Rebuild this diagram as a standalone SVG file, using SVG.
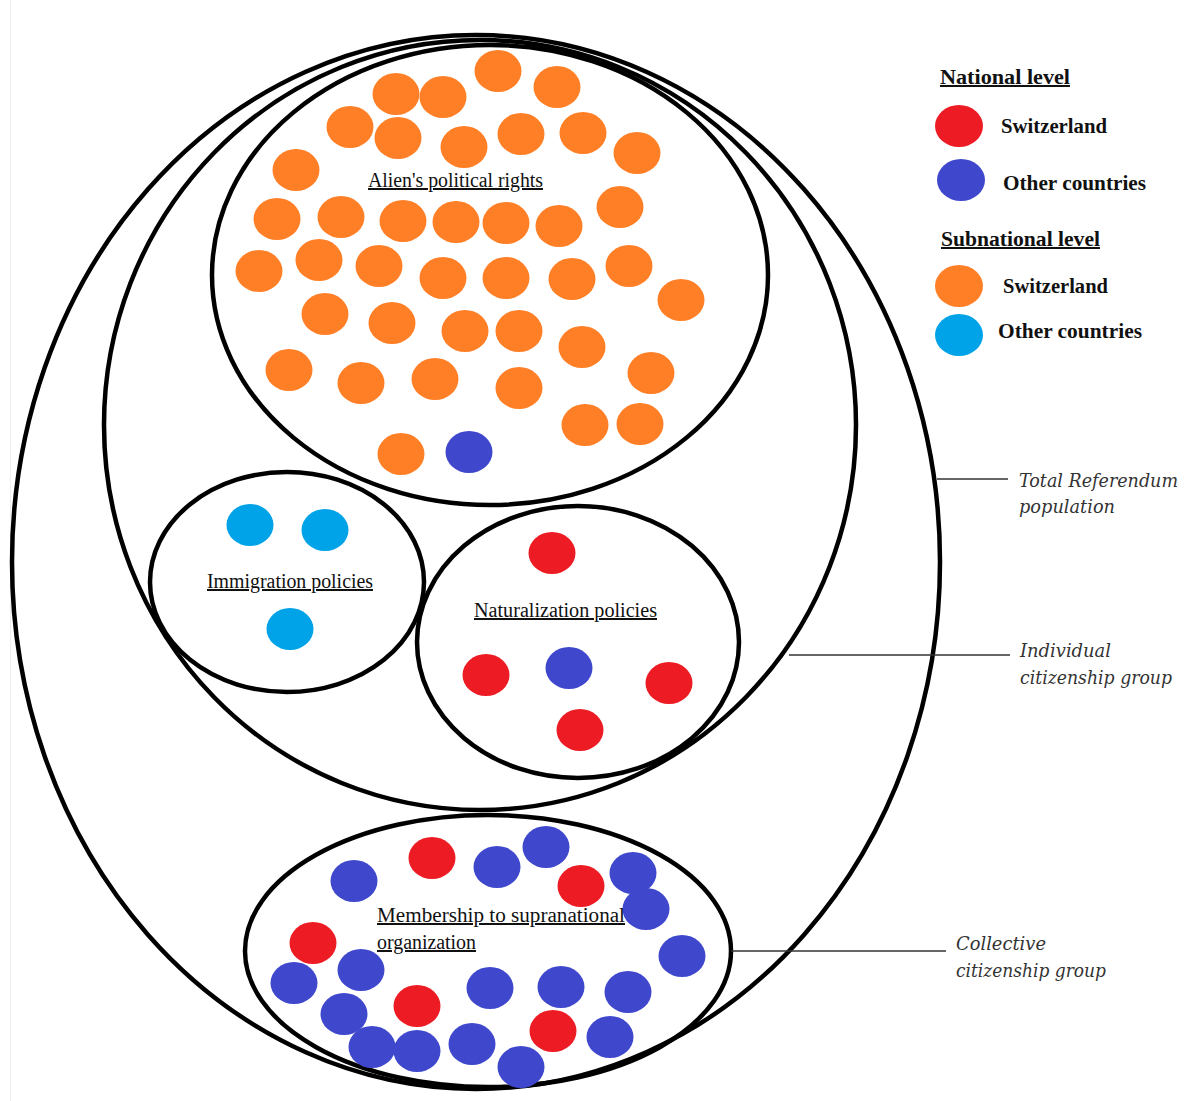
<svg xmlns="http://www.w3.org/2000/svg" width="1184" height="1101" viewBox="0 0 1184 1101">
  <style>
    .set { fill: none; stroke: #000; stroke-width: 4.5; }
    .o { fill: #FF7F27; }
    .r { fill: #ED1C24; }
    .b { fill: #3F48CC; }
    .c { fill: #00A2E8; }
    .lbl { font-family: "Liberation Serif", "Times New Roman", serif; font-size: 20px; fill: #111; text-decoration: underline; }
    .leg { font-family: "Liberation Serif", "Times New Roman", serif; font-size: 20px; font-weight: bold; fill: #111; }
    .legh { font-family: "Liberation Serif", "Times New Roman", serif; font-size: 20px; font-weight: bold; fill: #111; text-decoration: underline; }
    .cap { font-family: "DejaVu Serif", "Liberation Serif", serif; font-size: 18px; font-style: italic; fill: #333; }
    .lead { stroke: #333; stroke-width: 1.5; fill: none; }
  </style>
  <defs>
    <ellipse id="dot" cx="0" cy="0" rx="23.5" ry="21"/>
  </defs>
  <rect x="0" y="0" width="1184" height="1101" fill="#fff"/>
  <line x1="10.5" y1="0" x2="10.5" y2="1101" stroke="#eceef4" stroke-width="1"/>

  <g id="total-referendum-population">
    <ellipse class="set" cx="476" cy="562" rx="464" ry="527"/>
  </g>

  <g id="individual-citizenship-group">
    <ellipse class="set" cx="480" cy="425" rx="376" ry="385"/>
  </g>

  <g id="aliens-political-rights">
    <ellipse class="set" cx="490" cy="275" rx="278" ry="230"/>
    <g class="o">
      <use href="#dot" x="498" y="71"/><use href="#dot" x="557" y="87"/><use href="#dot" x="396" y="94"/>
      <use href="#dot" x="443" y="97"/><use href="#dot" x="350" y="127"/><use href="#dot" x="398" y="138"/>
      <use href="#dot" x="464" y="147"/><use href="#dot" x="521" y="134"/><use href="#dot" x="583" y="133"/>
      <use href="#dot" x="637" y="153"/><use href="#dot" x="296" y="170"/><use href="#dot" x="620" y="207"/>
      <use href="#dot" x="277" y="219"/><use href="#dot" x="341" y="217"/><use href="#dot" x="403" y="221"/>
      <use href="#dot" x="456" y="222"/><use href="#dot" x="506" y="223"/><use href="#dot" x="559" y="226"/>
      <use href="#dot" x="259" y="271"/><use href="#dot" x="319" y="260"/><use href="#dot" x="379" y="266"/>
      <use href="#dot" x="443" y="278"/><use href="#dot" x="506" y="278"/><use href="#dot" x="572" y="279"/>
      <use href="#dot" x="629" y="266"/><use href="#dot" x="681" y="300"/><use href="#dot" x="325" y="314"/>
      <use href="#dot" x="392" y="323"/><use href="#dot" x="465" y="331"/><use href="#dot" x="519" y="331"/>
      <use href="#dot" x="582" y="347"/><use href="#dot" x="289" y="370"/><use href="#dot" x="361" y="383"/>
      <use href="#dot" x="435" y="379"/><use href="#dot" x="519" y="388"/><use href="#dot" x="651" y="373"/>
      <use href="#dot" x="585" y="425"/><use href="#dot" x="640" y="424"/><use href="#dot" x="401" y="454"/>
    </g>
    <use href="#dot" class="b" x="469" y="452"/>
    <text class="lbl" x="368" y="187" textLength="175" lengthAdjust="spacingAndGlyphs">Alien's political rights</text>
  </g>

  <g id="immigration-policies">
    <ellipse class="set" cx="287" cy="582" rx="137" ry="110"/>
    <g class="c">
      <use href="#dot" x="250" y="525"/><use href="#dot" x="325" y="530"/><use href="#dot" x="290" y="629"/>
    </g>
    <text class="lbl" x="207" y="588" textLength="166" lengthAdjust="spacingAndGlyphs">Immigration policies</text>
  </g>

  <g id="naturalization-policies">
    <ellipse class="set" cx="578" cy="642" rx="161" ry="136"/>
    <g class="r">
      <use href="#dot" x="552" y="553"/><use href="#dot" x="486" y="675"/><use href="#dot" x="669" y="683"/><use href="#dot" x="580" y="730"/>
    </g>
    <use href="#dot" class="b" x="569" y="668"/>
    <text class="lbl" x="474" y="617" textLength="183" lengthAdjust="spacingAndGlyphs">Naturalization policies</text>
  </g>

  <g id="membership-supranational">
    <ellipse class="set" cx="488" cy="951" rx="243" ry="136"/>
    <g class="b">
      <use href="#dot" x="354" y="881"/><use href="#dot" x="497" y="867"/><use href="#dot" x="546" y="847"/>
      <use href="#dot" x="633" y="873"/><use href="#dot" x="646" y="909"/><use href="#dot" x="682" y="956"/>
      <use href="#dot" x="294" y="983"/><use href="#dot" x="361" y="970"/><use href="#dot" x="490" y="988"/>
      <use href="#dot" x="561" y="987"/><use href="#dot" x="628" y="992"/><use href="#dot" x="344" y="1014"/>
      <use href="#dot" x="610" y="1037"/><use href="#dot" x="372" y="1047"/><use href="#dot" x="417" y="1051"/>
      <use href="#dot" x="472" y="1044"/><use href="#dot" x="521" y="1067"/>
    </g>
    <g class="r">
      <use href="#dot" x="432" y="858"/><use href="#dot" x="581" y="886"/><use href="#dot" x="313" y="943"/>
      <use href="#dot" x="417" y="1006"/><use href="#dot" x="553" y="1031"/>
    </g>
    <text class="lbl" x="377" y="922" textLength="248" lengthAdjust="spacingAndGlyphs">Membership to supranational </text>
    <text class="lbl" x="377" y="949" textLength="99" lengthAdjust="spacingAndGlyphs">organization</text>
  </g>

  <g id="legend">
    <text class="legh" x="940" y="84" textLength="130" lengthAdjust="spacingAndGlyphs">National level</text>
    <ellipse class="r" cx="959" cy="126" rx="24" ry="21"/>
    <text class="leg" x="1001" y="133" textLength="106" lengthAdjust="spacingAndGlyphs">Switzerland</text>
    <ellipse class="b" cx="961" cy="180" rx="24" ry="21"/>
    <text class="leg" x="1003" y="190" textLength="143" lengthAdjust="spacingAndGlyphs">Other countries</text>
    <text class="legh" x="941" y="246" textLength="159" lengthAdjust="spacingAndGlyphs">Subnational level</text>
    <ellipse class="o" cx="959" cy="286" rx="24" ry="21"/>
    <text class="leg" x="1003" y="293" textLength="105" lengthAdjust="spacingAndGlyphs">Switzerland</text>
    <ellipse class="c" cx="959" cy="335" rx="24" ry="21"/>
    <text class="leg" x="998" y="338" textLength="144" lengthAdjust="spacingAndGlyphs">Other countries</text>
  </g>

  <g id="connectors">
    <line class="lead" x1="937" y1="479" x2="1008" y2="479"/>
    <line class="lead" x1="789" y1="655" x2="1010" y2="655"/>
    <line class="lead" x1="731" y1="951" x2="946" y2="951"/>
  </g>

  <g id="captions">
    <text class="cap" x="1019" y="487" textLength="159" lengthAdjust="spacingAndGlyphs">Total Referendum</text>
    <text class="cap" x="1019" y="513" textLength="96" lengthAdjust="spacingAndGlyphs">population</text>
    <text class="cap" x="1020" y="657" textLength="91" lengthAdjust="spacingAndGlyphs">Individual</text>
    <text class="cap" x="1020" y="684" textLength="152" lengthAdjust="spacingAndGlyphs">citizenship group</text>
    <text class="cap" x="956" y="950" textLength="90" lengthAdjust="spacingAndGlyphs">Collective</text>
    <text class="cap" x="956" y="977" textLength="150" lengthAdjust="spacingAndGlyphs">citizenship group</text>
  </g>
</svg>
